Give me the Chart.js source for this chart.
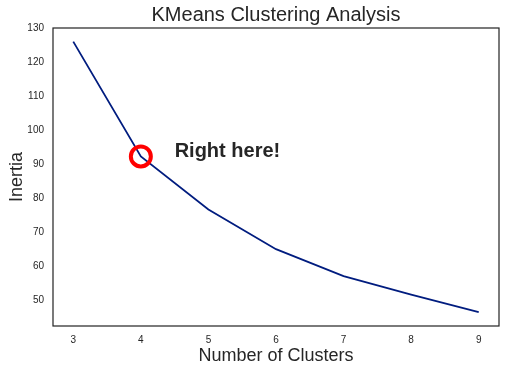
<!DOCTYPE html>
<html>
<head>
<meta charset="utf-8">
<script src="https://cdn.jsdelivr.net/npm/chart.js@4"></script>
<style>
  html, body { margin: 0; padding: 0; background: #fff; overflow: hidden; }
</style>
</head>
<body>
<canvas id="elbow" width="505" height="372"></canvas>
<script>
// cluster counts and inertia
const clusters = [3, 4, 5, 6, 7, 8, 9];
const inertia = [126.0, 92.2, 76.6, 64.9, 57.0, 51.5, 46.4];
const yTicks = [50, 60, 70, 80, 90, 100, 110, 120, 130];
// the marked point
const markX = [4];
const markY = [92.2];
const noteText = 'Right here!';
const noteAt = { x: 4.5, y: 92 };

const FONT = '"Liberation Sans", Arial, sans-serif';

// box round the plot + the annotation text
const framePlugin = {
  id: 'frame',
  afterDraw(chart) {
    const ctx = chart.ctx, a = chart.chartArea;
    ctx.save();
    ctx.strokeStyle = '#222';
    ctx.lineWidth = 1.2;
    ctx.strokeRect(a.left, a.top, a.right - a.left, a.bottom - a.top);
    const px = chart.scales.x.getPixelForValue(noteAt.x);
    const py = chart.scales.y.getPixelForValue(noteAt.y);
    ctx.fillStyle = '#262626';
    ctx.font = 'bold 20px ' + FONT;
    ctx.textAlign = 'left';
    ctx.textBaseline = 'alphabetic';
    ctx.fillText(noteText, px, py);
    ctx.restore();
  }
};

new Chart(document.getElementById('elbow'), {
  type: 'line',
  data: {
    datasets: [
      {
        data: clusters.map((c, i) => ({ x: c, y: inertia[i] })),
        borderColor: '#001c7f',
        borderWidth: 1.8,
        pointRadius: 0,
        tension: 0,
        order: 2
      },
      {
        type: 'scatter',
        data: markX.map((c, i) => ({ x: c, y: markY[i] })),
        pointRadius: 10,
        pointBorderWidth: 4,
        pointBorderColor: '#ff0000',
        pointBackgroundColor: 'rgba(0,0,0,0)',
        order: 1
      }
    ]
  },
  options: {
    responsive: false,
    animation: false,
    devicePixelRatio: 1,
    layout: { autoPadding: false, padding: { left: 0, right: 6, top: 0, bottom: 0 } },
    plugins: {
      legend: { display: false },
      tooltip: { enabled: false },
      title: {
        display: true,
        text: 'KMeans Clustering Analysis',
        fullSize: false,
        color: '#262626',
        font: { family: FONT, size: 20, weight: 'normal' },
        padding: { top: 3, bottom: 1 }
      }
    },
    scales: {
      x: {
        type: 'linear',
        min: 2.7,
        max: 9.3,
        grid: { display: false, drawTicks: false },
        border: { display: false },
        afterBuildTicks(s) { s.ticks = clusters.map(v => ({ value: v })); },
        afterFit(s) { s.height = 46; s.paddingLeft = 0; s.paddingRight = 0; },
        ticks: { color: '#262626', padding: 8, font: { family: FONT, size: 10 } },
        title: {
          display: true,
          text: 'Number of Clusters',
          color: '#262626',
          font: { family: FONT, size: 18 },
          padding: { top: 0, bottom: 5 }
        }
      },
      y: {
        min: 42.3,
        max: 130,
        grid: { display: false, drawTicks: false },
        border: { display: false },
        afterBuildTicks(s) { s.ticks = yTicks.map(v => ({ value: v })); },
        afterFit(s) { s.width = 53; s.paddingTop = 0; s.paddingBottom = 0; },
        ticks: { color: '#262626', padding: 9, font: { family: FONT, size: 10 } },
        title: {
          display: true,
          text: 'Inertia',
          color: '#262626',
          font: { family: FONT, size: 18 },
          padding: { top: 6, bottom: 0 }
        }
      }
    }
  },
  plugins: [framePlugin]
});
</script>
</body>
</html>
